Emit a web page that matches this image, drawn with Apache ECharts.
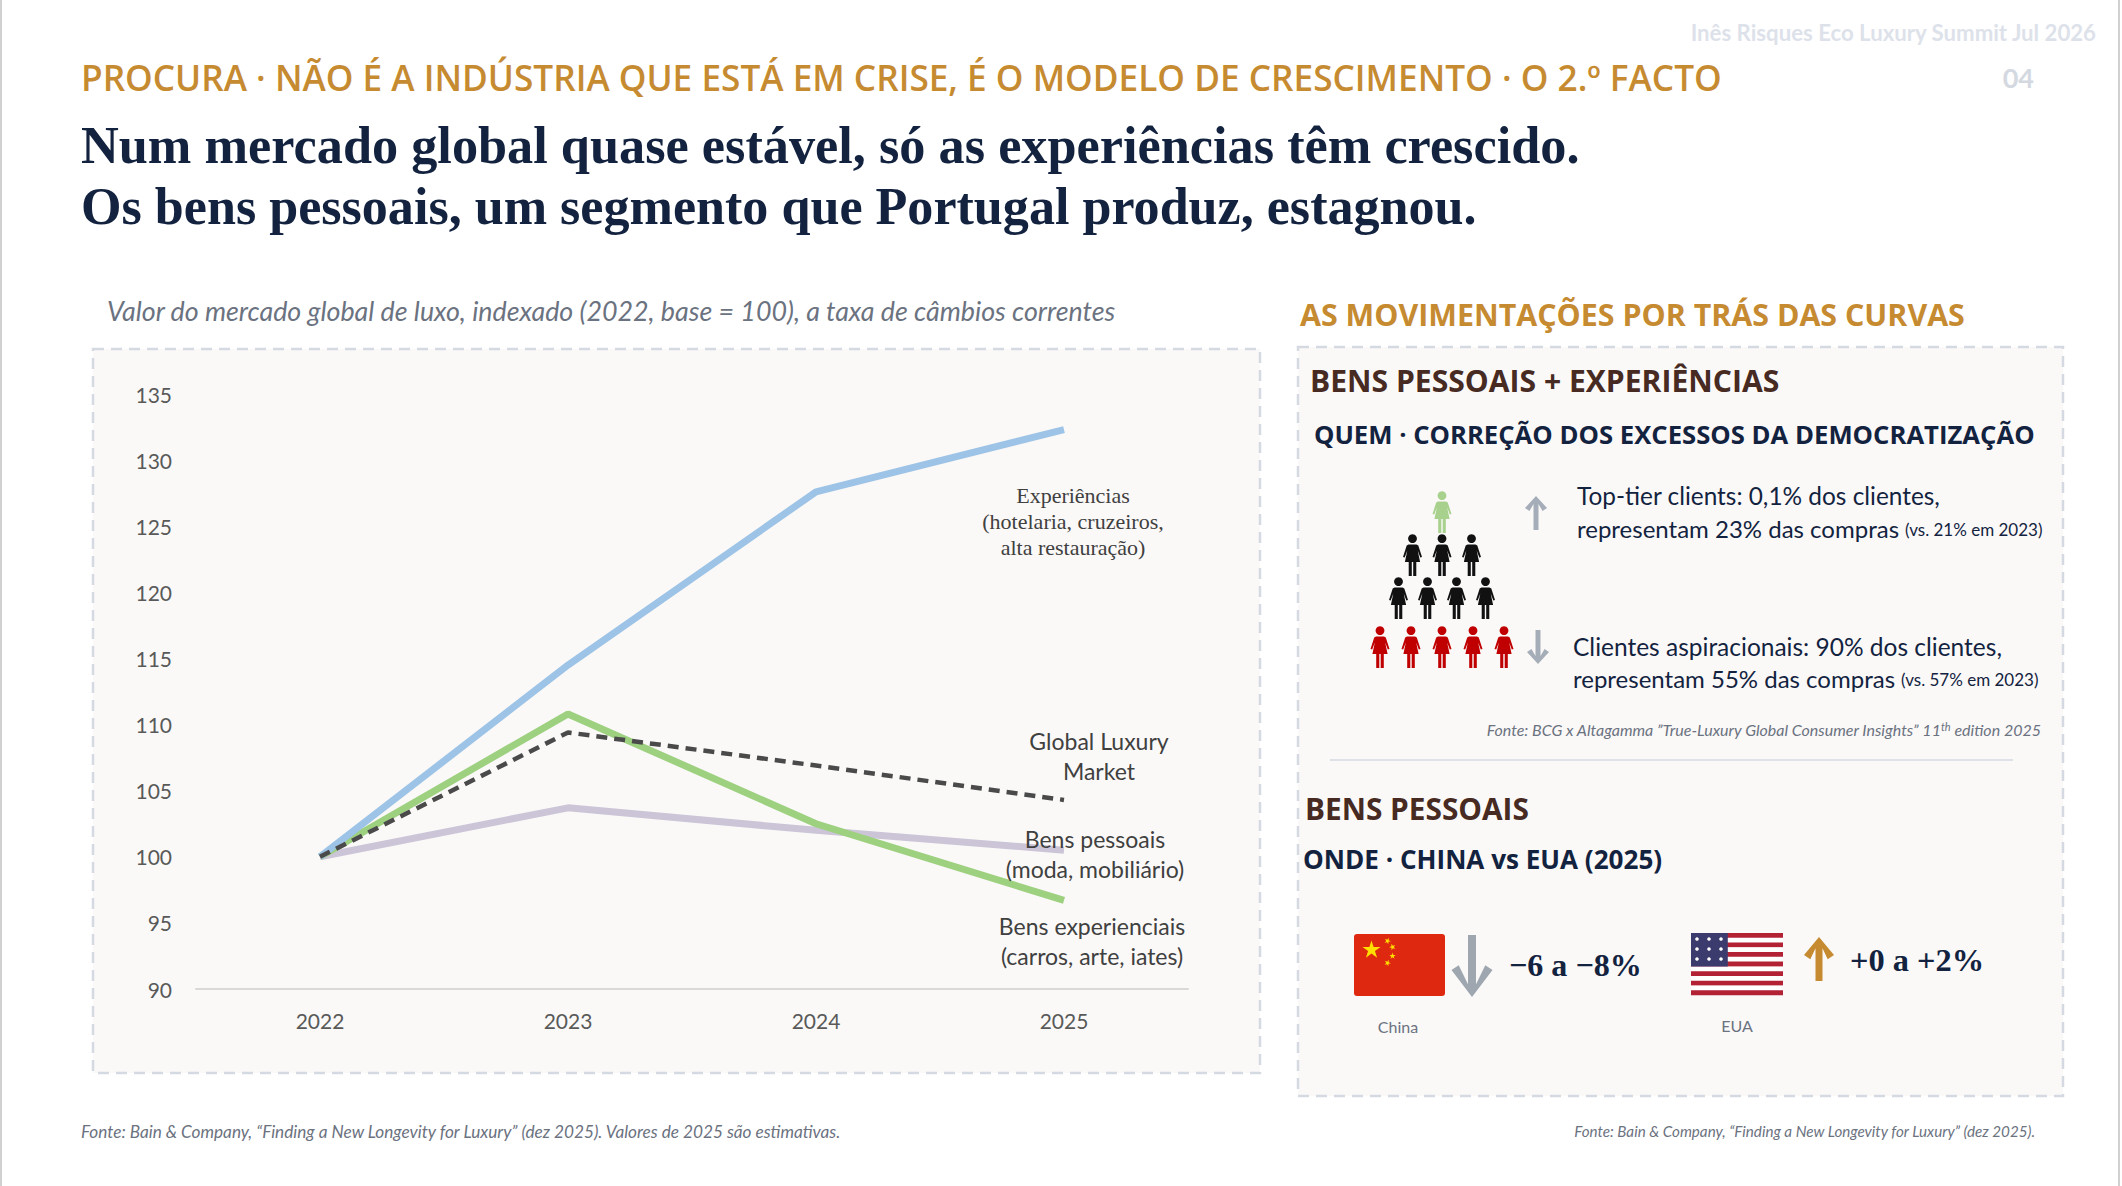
<!DOCTYPE html>
<html lang="pt">
<head>
<meta charset="utf-8">
<title>Procura · o 2.º facto</title>
<script src="https://cdn.jsdelivr.net/npm/echarts@6.0.0/dist/echarts.min.js"></script>
<style>
  html, body { margin: 0; padding: 0; background: #fff; }
  #slide { width: 2122px; height: 1186px; }
</style>
</head>
<body>
<div id="slide"></div>
<script>
// values (index, 2022 = 100)
const years = ["2022", "2023", "2024", "2025"];
const experiencias = [100, 114.5, 127.6, 132.3];
const globalLuxury = [100, 109.4, 106.9, 104.3];
const bensPessoais = [100, 103.7, 102.0, 100.5];
const bensExperienciais = [100, 110.8, 102.5, 96.7];
const yMin = 90;
const yMax = 135;
const yStep = 5;

const seriesNames = ["Bens pessoais", "Bens experienciais", "Experiências", "Global Luxury Market"];
const seriesLabels = [
  "Bens pessoais\n(moda, mobiliário)",
  "Bens experienciais\n(carros, arte, iates)",
  "Experiências\n(hotelaria, cruzeiros,\nalta restauração)",
  "Global Luxury\nMarket",
];

// pyramid of clients: one row per level, colour per row
const pyramidRows = [1, 3, 4, 5];
const pyramidColors = ["#A9D18E", "#111111", "#111111", "#C00000"];

const GOLD = "#C68B31";
const NAVY = "#13233F";
const BROWN = "#472A22";
const GREY_TEXT = "#6B7280";
const SANS = "Lato, 'Open Sans', sans-serif";
const SERIF = "'Liberation Serif', 'DejaVu Serif', serif";

const measureCtx = document.createElement("canvas").getContext("2d");
function fit(text, weight, style, family, width) {
  measureCtx.font = `${style} ${weight} 100px ${family}`;
  return Math.round((100 * width) / measureCtx.measureText(text).width * 10) / 10;
}

function label(x, y, text, o) {
  const size = o.width ? fit(text, o.weight || "normal", o.style || "normal", o.family || SANS, o.width) : o.size;
  return {
    type: "text",
    x, y, z: 10,
    style: {
      text,
      fill: o.color || NAVY,
      fontSize: size,
      fontFamily: o.family || SANS,
      fontWeight: o.weight || "normal",
      fontStyle: o.style || "normal",
      textAlign: o.align || "left",
      align: o.align || "left",
      textVerticalAlign: "middle",
      verticalAlign: "middle",
      lineHeight: o.lineHeight,
      rich: o.rich,
    },
  };
}

// pictogram of a woman built from simple shapes, centred on (cx, cy), about 20 x 42
function person(cx, cy, color) {
  const x = cx - 10, y = cy - 21;
  const p = (px, py) => [x + px, y + py];
  return {
    type: "group",
    children: [
      { type: "circle", z: 10, shape: { cx: x + 10, cy: y + 4.6, r: 4.4 }, style: { fill: color } },
      {
        type: "polygon", z: 10,
        shape: {
          points: [
            p(6, 10.5), p(14, 10.5), p(15.8, 11.5), p(19.5, 23), p(17.8, 23.6), p(15.2, 16.5),
            p(17.6, 28), p(2.4, 28), p(4.8, 16.5), p(2.2, 23.6), p(0.5, 23), p(4.2, 11.5),
          ],
        },
        style: { fill: color },
      },
      { type: "rect", z: 10, shape: { x: x + 6.2, y: y + 27.5, width: 3.1, height: 14.5 }, style: { fill: color } },
      { type: "rect", z: 10, shape: { x: x + 10.7, y: y + 27.5, width: 3.1, height: 14.5 }, style: { fill: color } },
    ],
  };
}

function arrow(cx, top, bottom, headW, headH, shaftW, color, up) {
  const h = up ? 1 : -1;
  const tip = up ? top : bottom;
  const base = up ? bottom : top;
  const neck = tip + h * headH;
  const pts = [
    [cx, tip], [cx + headW / 2, neck], [cx + headW / 2 - shaftW * 0.9, neck + h * shaftW * 0.6],
    [cx + shaftW / 2, tip + h * shaftW * 1.6], [cx + shaftW / 2, base], [cx - shaftW / 2, base],
    [cx - shaftW / 2, tip + h * shaftW * 1.6], [cx - headW / 2 + shaftW * 0.9, neck + h * shaftW * 0.6],
    [cx - headW / 2, neck],
  ];
  return { type: "polygon", z: 10, shape: { points: pts }, style: { fill: color } };
}

function starPoints(cx, cy, r, rot) {
  const pts = [];
  for (let i = 0; i < 10; i++) {
    const a = rot - Math.PI / 2 + (i * Math.PI) / 5;
    const rr = i % 2 ? r * 0.38 : r;
    pts.push([cx + rr * Math.cos(a), cy + rr * Math.sin(a)]);
  }
  return pts;
}

function chinaFlag(x, y, w, h) {
  const els = [{ type: "rect", z: 10, shape: { x, y, width: w, height: h, r: 3 }, style: { fill: "#DE2910" } }];
  const star = (cx, cy, r, rot) => ({ type: "polygon", z: 11, shape: { points: starPoints(cx, cy, r, rot) }, style: { fill: "#FFDE00" } });
  els.push(star(x + 17.5, y + 16, 9.5, 0));
  els.push(star(x + 33.5, y + 7, 3.4, 0.4));
  els.push(star(x + 38.5, y + 13, 3.4, 0.9));
  els.push(star(x + 38.5, y + 22, 3.4, 0));
  els.push(star(x + 33.5, y + 29, 3.4, 0.4));
  return els;
}

function usFlag(x, y, w, h) {
  const els = [];
  const sh = h / 13;
  for (let i = 0; i < 13; i++) {
    els.push({ type: "rect", z: 10, shape: { x, y: y + i * sh, width: w, height: sh + 0.3 }, style: { fill: i % 2 ? "#FFFFFF" : "#B22234" } });
  }
  const cw = w * 0.4, ch = sh * 7;
  els.push({ type: "rect", z: 11, shape: { x, y, width: cw, height: ch }, style: { fill: "#3C3B6E" } });
  for (let r = 0; r < 3; r++) {
    for (let c = 0; c < 3; c++) {
      els.push({ type: "circle", z: 12, shape: { cx: x + 6 + c * 12, cy: y + 6 + r * 10, r: 1.8 }, style: { fill: "#FFFFFF" } });
    }
  }
  return els;
}

const richLine = {
  a: { fontSize: 24, fontFamily: SANS, fill: NAVY, color: NAVY },
  b: { fontSize: 17, fontFamily: SANS, fill: NAVY, color: NAVY, verticalAlign: "bottom", padding: [0, 0, 2, 6] },
};

const graphic = [
  // slide edges
  { type: "line", z: 1, shape: { x1: 1, y1: 0, x2: 1, y2: 1186 }, style: { stroke: "#D0D0D0", lineWidth: 2 } },
  { type: "line", z: 1, shape: { x1: 2119, y1: 0, x2: 2119, y2: 1186 }, style: { stroke: "#D0D0D0", lineWidth: 2 } },
  // panels
  { type: "rect", z: -10, shape: { x: 93, y: 349, width: 1167, height: 724 }, style: { fill: "#FAF9F8", stroke: "#D5D9E2", lineWidth: 2.5, lineDash: [11, 7] } },
  { type: "rect", z: -10, shape: { x: 1298, y: 347, width: 765, height: 749 }, style: { fill: "#FAF9F8", stroke: "#D5D9E2", lineWidth: 2.5, lineDash: [11, 7] } },
  { type: "line", z: 1, shape: { x1: 1330, y1: 760, x2: 2013, y2: 760 }, style: { stroke: "#DEE1E8", lineWidth: 2 } },

  // header
  label(2096, 32, "Inês Risques Eco Luxury Summit Jul 2026", { width: 407, color: "#DDE2EA", weight: "bold", align: "right" }),
  label(2034, 77, "04", { size: 27, color: "#D4D9E1", weight: "bold", align: "right" }),
  label(81, 77, "PROCURA · NÃO É A INDÚSTRIA QUE ESTÁ EM CRISE, É O MODELO DE CRESCIMENTO · O 2.º FACTO", { width: 1642, color: GOLD, weight: 600, family: "'Open Sans', sans-serif" }),
  label(81, 145, "Num mercado global quase estável, só as experiências têm crescido.", { width: 1498, weight: "bold", family: SERIF }),
  label(81, 206, "Os bens pessoais, um segmento que Portugal produz, estagnou.", { width: 1397, weight: "bold", family: SERIF }),

  // chart subtitle
  label(107, 311, "Valor do mercado global de luxo, indexado (2022, base = 100), a taxa de câmbios correntes", { width: 1009, color: GREY_TEXT, style: "italic" }),

  // series annotations
  label(1073, 521, seriesLabels[2], { size: 22, color: "#404040", family: SERIF, align: "center", lineHeight: 26 }),
  label(1099, 756, seriesLabels[3], { size: 23, color: "#404040", align: "center", lineHeight: 30 }),
  label(1095, 854, seriesLabels[0], { size: 23, color: "#404040", align: "center", lineHeight: 30 }),
  label(1092, 941, seriesLabels[1], { size: 23, color: "#404040", align: "center", lineHeight: 30 }),

  // right column
  label(1300, 314, "AS MOVIMENTAÇÕES POR TRÁS DAS CURVAS", { width: 664, color: GOLD, weight: "bold", family: "'Open Sans', sans-serif" }),
  label(1310, 380, "BENS PESSOAIS + EXPERIÊNCIAS", { width: 470, color: BROWN, weight: "bold", family: "'Open Sans', sans-serif" }),
  label(1314, 434, "QUEM · CORREÇÃO DOS EXCESSOS DA DEMOCRATIZAÇÃO", { width: 721, color: NAVY, weight: "bold", family: "'Open Sans', sans-serif" }),

  label(1577, 495, "Top-tier clients: 0,1% dos clientes,", { width: 364, color: NAVY }),
  label(1577, 528, "{a|representam 23% das compras}{b|(vs. 21% em 2023)}", { rich: richLine }),
  label(1573, 646, "Clientes aspiracionais: 90% dos clientes,", { width: 429, color: NAVY }),
  label(1573, 678, "{a|representam 55% das compras}{b|(vs. 57% em 2023)}", { rich: richLine }),
  label(2041, 729, "{a|Fonte: BCG x Altagamma \u201DTrue-Luxury Global Consumer Insights\u201D 11}{s|th}{a| edition 2025}", {
    align: "right",
    rich: {
      a: { fontSize: 16, fontFamily: SANS, fontStyle: "italic", fill: GREY_TEXT, color: GREY_TEXT },
      s: { fontSize: 11, fontFamily: SANS, fontStyle: "italic", fill: GREY_TEXT, color: GREY_TEXT, verticalAlign: "top" },
    },
  }),

  arrow(1536, 496, 530, 22, 12, 5, "#A5AEB8", true),
  arrow(1538, 630, 664, 22, 12, 5, "#A5AEB8", false),

  label(1305, 808, "BENS PESSOAIS", { width: 224, color: BROWN, weight: "bold", family: "'Open Sans', sans-serif" }),
  label(1303, 859, "ONDE · CHINA vs EUA (2025)", { width: 359, color: NAVY, weight: "bold", family: "'Open Sans', sans-serif" }),

  ...chinaFlag(1354, 934, 91, 62),
  arrow(1472, 935, 997, 41, 27, 8, "#9EA6AF", false),
  label(1509, 965, "\u22126 a \u22128%", { width: 133, color: NAVY, weight: "bold", family: SERIF }),
  label(1398, 1026, "China", { size: 16, color: GREY_TEXT, align: "center" }),

  ...usFlag(1691, 933, 92, 62),
  arrow(1819, 937, 981, 30, 18, 7, GOLD, true),
  label(1850, 960, "+0 a +2%", { width: 134, color: NAVY, weight: "bold", family: SERIF }),
  label(1737, 1025, "EUA", { size: 16, color: GREY_TEXT, align: "center" }),

  // footers
  label(81, 1131, "Fonte: Bain & Company, \u201CFinding a New Longevity for Luxury\u201D (dez 2025). Valores de 2025 são estimativas.", { width: 763, color: GREY_TEXT, style: "italic" }),
  label(2035, 1131, "Fonte: Bain & Company, \u201CFinding a New Longevity for Luxury\u201D (dez 2025).", { width: 461, color: GREY_TEXT, style: "italic", align: "right" }),
];

// pyramid icons: rows centred on the same column
const pyramidTop = 512;
const pyramidRowGap = [0, 43, 86, 135];
const pyramidSpacing = [0, 29.5, 29, 31];
pyramidRows.forEach((n, row) => {
  for (let i = 0; i < n; i++) {
    const cx = 1442 + (i - (n - 1) / 2) * pyramidSpacing[row];
    graphic.push(person(cx, pyramidTop + pyramidRowGap[row], pyramidColors[row]));
  }
});

const chart = echarts.init(document.getElementById("slide"), null, { renderer: "svg", width: 2122, height: 1186 });

chart.setOption({
  animation: false,
  backgroundColor: "#FFFFFF",
  grid: { left: 196, right: 934, top: 394, bottom: 197, containLabel: false },
  xAxis: {
    type: "category",
    data: years,
    boundaryGap: true,
    axisLine: { lineStyle: { color: "#D9D9D9", width: 2 } },
    axisTick: { show: false },
    axisLabel: { color: "#595959", fontSize: 21, fontFamily: SANS, margin: 21 },
  },
  yAxis: {
    type: "value",
    min: yMin,
    max: yMax,
    interval: yStep,
    axisLine: { show: false },
    axisTick: { show: false },
    splitLine: { show: false },
    axisLabel: { color: "#595959", fontSize: 21, fontFamily: SANS, margin: 24 },
  },
  series: [
    { name: seriesNames[0], type: "line", data: bensPessoais, symbol: "none", z: 2, lineStyle: { color: "#CBC5D7", width: 7 } },
    { name: seriesNames[1], type: "line", data: bensExperienciais, symbol: "none", z: 3, lineStyle: { color: "#9DD07F", width: 7 } },
    { name: seriesNames[2], type: "line", data: experiencias, symbol: "none", z: 4, lineStyle: { color: "#9DC3E6", width: 7 } },
    { name: seriesNames[3], type: "line", data: globalLuxury, symbol: "none", z: 5, lineStyle: { color: "#4A4A4A", width: 4.5, type: [11, 7] } },
  ],
  graphic,
});
</script>
</body>
</html>
